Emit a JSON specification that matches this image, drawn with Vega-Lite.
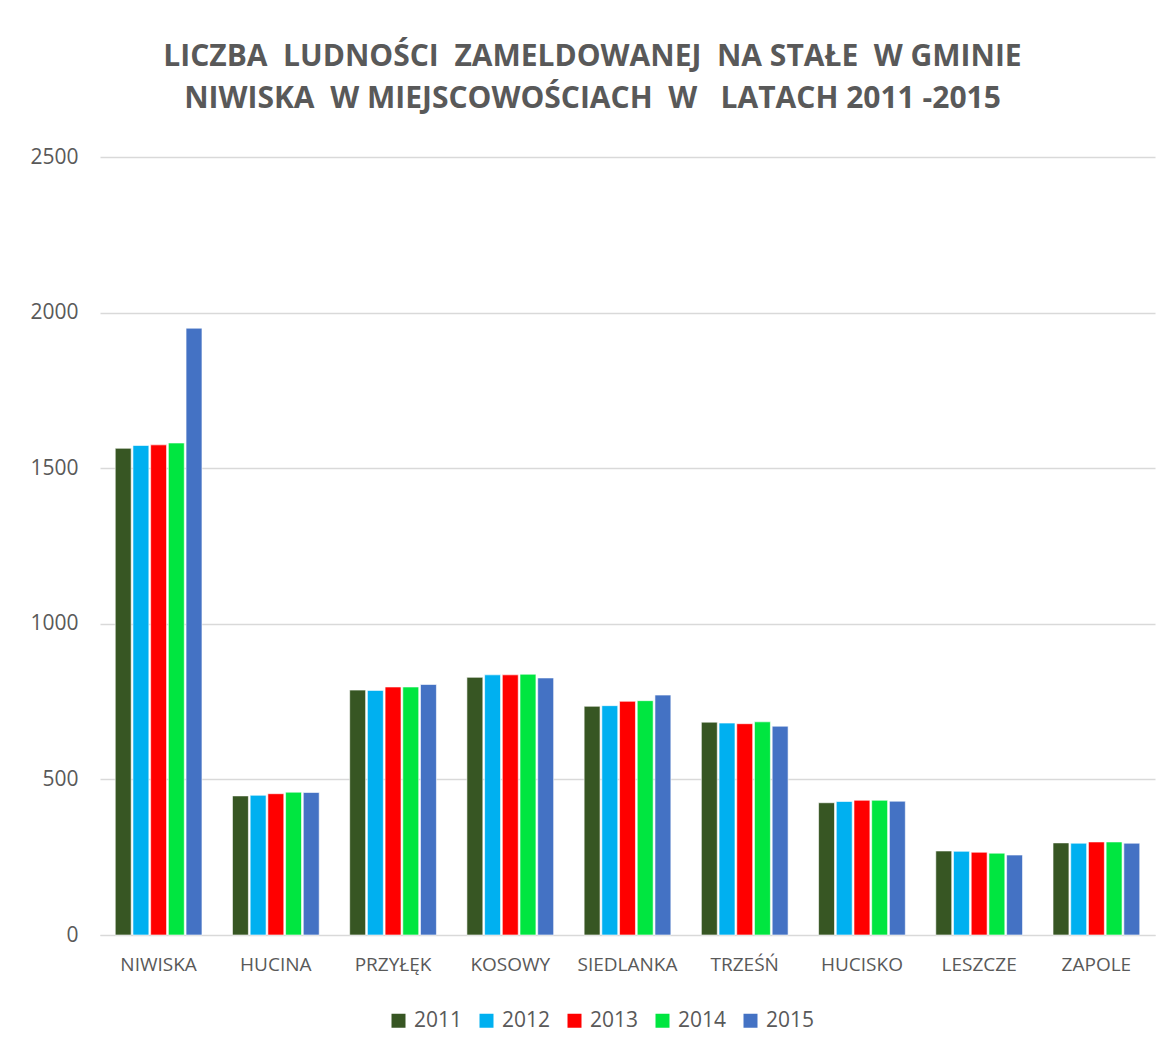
{
  "$schema": "https://vega.github.io/schema/vega-lite/v6.json",
  "width": 1055,
  "height": 778,
  "autosize": {"type": "none"},
  "padding": {"left": 100, "top": 157, "right": 18, "bottom": 113},
  "background": "white",
  "title": {
    "text": ["LICZBA\u00a0 LUDNOŚCI\u00a0 ZAMELDOWANEJ\u00a0 NA STAŁE\u00a0 W GMINIE", "NIWISKA\u00a0 W MIEJSCOWOŚCIACH\u00a0 W\u00a0\u00a0 LATACH 2011 -2015"],
    "font": "Open Sans",
    "fontSize": 30,
    "fontWeight": "bold",
    "color": "#595959",
    "anchor": "middle",
    "frame": "bounds",
    "lineHeight": 42,
    "offset": 32
  },
  "data": {
    "values": [
      {"miejscowosc": "NIWISKA", "rok": "2011", "liczba": 1564},
      {"miejscowosc": "NIWISKA", "rok": "2012", "liczba": 1573},
      {"miejscowosc": "NIWISKA", "rok": "2013", "liczba": 1575},
      {"miejscowosc": "NIWISKA", "rok": "2014", "liczba": 1581},
      {"miejscowosc": "NIWISKA", "rok": "2015", "liczba": 1950},
      {"miejscowosc": "HUCINA", "rok": "2011", "liczba": 447},
      {"miejscowosc": "HUCINA", "rok": "2012", "liczba": 449},
      {"miejscowosc": "HUCINA", "rok": "2013", "liczba": 454},
      {"miejscowosc": "HUCINA", "rok": "2014", "liczba": 459},
      {"miejscowosc": "HUCINA", "rok": "2015", "liczba": 458},
      {"miejscowosc": "PRZYŁĘK", "rok": "2011", "liczba": 787},
      {"miejscowosc": "PRZYŁĘK", "rok": "2012", "liczba": 786},
      {"miejscowosc": "PRZYŁĘK", "rok": "2013", "liczba": 797},
      {"miejscowosc": "PRZYŁĘK", "rok": "2014", "liczba": 797},
      {"miejscowosc": "PRZYŁĘK", "rok": "2015", "liczba": 805},
      {"miejscowosc": "KOSOWY", "rok": "2011", "liczba": 828},
      {"miejscowosc": "KOSOWY", "rok": "2012", "liczba": 836},
      {"miejscowosc": "KOSOWY", "rok": "2013", "liczba": 836},
      {"miejscowosc": "KOSOWY", "rok": "2014", "liczba": 838},
      {"miejscowosc": "KOSOWY", "rok": "2015", "liczba": 826},
      {"miejscowosc": "SIEDLANKA", "rok": "2011", "liczba": 735},
      {"miejscowosc": "SIEDLANKA", "rok": "2012", "liczba": 737},
      {"miejscowosc": "SIEDLANKA", "rok": "2013", "liczba": 751},
      {"miejscowosc": "SIEDLANKA", "rok": "2014", "liczba": 753},
      {"miejscowosc": "SIEDLANKA", "rok": "2015", "liczba": 771},
      {"miejscowosc": "TRZEŚŃ", "rok": "2011", "liczba": 684},
      {"miejscowosc": "TRZEŚŃ", "rok": "2012", "liczba": 681},
      {"miejscowosc": "TRZEŚŃ", "rok": "2013", "liczba": 679},
      {"miejscowosc": "TRZEŚŃ", "rok": "2014", "liczba": 685},
      {"miejscowosc": "TRZEŚŃ", "rok": "2015", "liczba": 671},
      {"miejscowosc": "HUCISKO", "rok": "2011", "liczba": 425},
      {"miejscowosc": "HUCISKO", "rok": "2012", "liczba": 429},
      {"miejscowosc": "HUCISKO", "rok": "2013", "liczba": 433},
      {"miejscowosc": "HUCISKO", "rok": "2014", "liczba": 433},
      {"miejscowosc": "HUCISKO", "rok": "2015", "liczba": 430},
      {"miejscowosc": "LESZCZE", "rok": "2011", "liczba": 270},
      {"miejscowosc": "LESZCZE", "rok": "2012", "liczba": 269},
      {"miejscowosc": "LESZCZE", "rok": "2013", "liczba": 266},
      {"miejscowosc": "LESZCZE", "rok": "2014", "liczba": 263},
      {"miejscowosc": "LESZCZE", "rok": "2015", "liczba": 257},
      {"miejscowosc": "ZAPOLE", "rok": "2011", "liczba": 296},
      {"miejscowosc": "ZAPOLE", "rok": "2012", "liczba": 295},
      {"miejscowosc": "ZAPOLE", "rok": "2013", "liczba": 299},
      {"miejscowosc": "ZAPOLE", "rok": "2014", "liczba": 299},
      {"miejscowosc": "ZAPOLE", "rok": "2015", "liczba": 295}
    ]
  },
  "mark": {"type": "bar", "stroke": "white", "strokeWidth": 1, "strokeOpacity": 0.6},
  "encoding": {
    "x": {
      "field": "miejscowosc",
      "type": "nominal",
      "sort": null,
      "scale": {"paddingInner": 0.26, "paddingOuter": 0.13},
      "axis": {
        "title": null,
        "labelAngle": 0,
        "ticks": false,
        "domainColor": "#d9d9d9",
        "labelFont": "Open Sans",
        "labelFontSize": 19,
        "labelColor": "#595959",
        "labelPadding": 20
      }
    },
    "xOffset": {"field": "rok", "type": "nominal", "scale": {"paddingInner": 0.1}},
    "y": {
      "field": "liczba",
      "type": "quantitative",
      "scale": {"domain": [0, 2500]},
      "axis": {
        "title": null,
        "values": [0, 500, 1000, 1500, 2000, 2500],
        "format": "d",
        "domain": false,
        "ticks": false,
        "gridColor": "#d9d9d9",
        "gridWidth": 1.5,
        "labelFont": "Open Sans",
        "labelFontSize": 21,
        "labelColor": "#595959",
        "labelPadding": 22
      }
    },
    "color": {
      "field": "rok",
      "type": "nominal",
      "scale": {
        "domain": ["2011", "2012", "2013", "2014", "2015"],
        "range": ["#375623", "#00b0f0", "#ff0000", "#00e640", "#4472c4"]
      },
      "legend": {
        "title": null,
        "orient": "none",
        "legendX": 288,
        "legendY": 853,
        "padding": 0,
        "direction": "horizontal",
        "symbolType": "square",
        "symbolSize": 196,
        "symbolStrokeWidth": 0,
        "labelFont": "Open Sans",
        "labelFontSize": 21,
        "labelColor": "#595959",
        "columnPadding": 13,
        "labelOffset": 5
      }
    }
  },
  "config": {"view": {"stroke": null}}
}
